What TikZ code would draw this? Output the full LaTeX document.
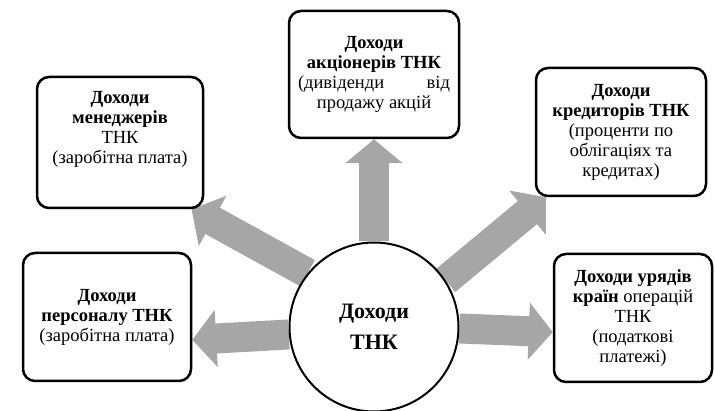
\documentclass[tikz,border=0pt]{standalone}
\usepackage{fontspec}
\setmainfont{Liberation Serif}
\usetikzlibrary{arrows.meta, backgrounds}
\definecolor{arrowgray}{HTML}{A6A6A6}
\begin{document}
\begin{tikzpicture}[x = 1pt, y = -1pt,
        box/.style = {draw, line width = 2.5pt, rounded corners = 12pt, fill = white, align = center, inner sep = 2pt, font = \fontsize{18.5}{20}\selectfont},
        hub/.style = {draw, circle, line width = 2pt, fill = white, minimum size = 169pt, inner sep = 0pt, align = center, font = \fontsize{22}{31}\selectfont\bfseries},
        flow/.style = {line width = 30pt, draw = arrowgray, -{Triangle[width = 56pt, length = 24pt]}}]
        \useasboundingbox (0, 0) rectangle (715, 411);
        \node [hub] (tnk) at (374, 327) {Доходи\\ТНК};
        \node [box, minimum width = 166pt, minimum height = 131pt] (mgr) at (120, 142.5) {\textbf{Доходи}\\\textbf{менеджерів}\\ТНК\\(заробітна плата)\\[10pt]\mbox{}};
        \node [box, minimum width = 170pt, minimum height = 127pt] (shr) at (374, 74.5) {\textbf{Доходи}\\\textbf{акціонерів ТНК}\\\makebox[152pt][s]{(дивіденди від}\\продажу акцій};
        \node [box, minimum width = 170pt, minimum height = 128pt] (crd) at (621, 132) {\textbf{Доходи}\\\textbf{кредиторів ТНК}\\(проценти по\\облігаціях та\\кредитах)};
        \node [box, minimum width = 168pt, minimum height = 128pt] (stf) at (107, 317) {\textbf{Доходи}\\\textbf{персоналу ТНК}\\(заробітна плата)};
        \node [box, minimum width = 158pt, minimum height = 128pt] (gov) at (633, 318) {\textbf{Доходи урядів}\\\textbf{країн} операцій\\ТНК\\(податкові\\платежі)};
        \begin{scope}[on background layer]
            \draw [flow] (tnk.141) -- (mgr.-43);
            \draw [flow] (tnk.north) -- (shr.south);
            \draw [flow] (tnk.33) -- (crd.221);
            \draw [flow] (tnk.185) -- (stf.-15);
            \draw [flow] (tnk.-1) -- (gov.190);
        \end{scope}
\end{tikzpicture}
\end{document}
